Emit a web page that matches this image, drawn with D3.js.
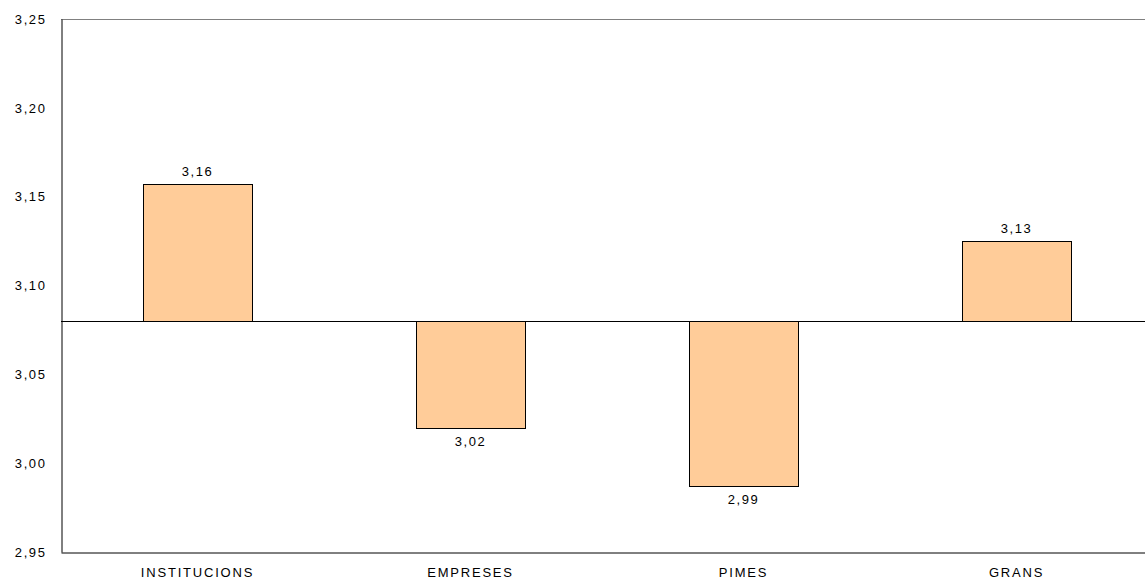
<!DOCTYPE html>
<html><head><meta charset="utf-8">
<script src="https://cdn.jsdelivr.net/npm/d3@7"></script>
<style>
body{margin:0;background:#fff;}
text{font-family:"Liberation Sans",Arial,sans-serif;fill:#000;}
</style></head>
<body>
<svg id="chart" width="1145" height="582"></svg>
<script>
const categories = ["INSTITUCIONS","EMPRESES","PIMES","GRANS"];
const values = [3.157, 3.020, 2.987, 3.125];
const baseline = 3.08;
const yTicks = [2.95, 3.00, 3.05, 3.10, 3.15, 3.20, 3.25];

(function(){
const svg = d3.select("#chart");
const mLeft = 61, mRight = 1153, mTop = 19, mBottom = 552;

const x = d3.scaleBand().domain(categories).range([mLeft, mRight]).paddingInner(0.6).paddingOuter(0.3);
const y = d3.scaleLinear().domain([2.95, 3.25]).range([mBottom, mTop]);
const fmt = v => v.toFixed(2).replace(".", ",");

// top border
svg.append("line").attr("x1", mLeft).attr("x2", mRight).attr("y1", y(3.25)+0.5).attr("y2", y(3.25)+0.5)
  .attr("stroke", "#808080").attr("stroke-width", 1);

// bars
svg.selectAll("rect.bar").data(values).join("rect")
  .attr("class","bar")
  .attr("x", (d,i) => Math.round(x(categories[i])) + 0.5)
  .attr("width", Math.round(x.bandwidth()))
  .attr("y", d => Math.round(y(Math.max(d, baseline))) + 0.5)
  .attr("height", d => Math.round(Math.abs(y(d) - y(baseline))))
  .attr("fill", "#FFCC99").attr("stroke", "#000").attr("stroke-width", 1);

// baseline
svg.append("line").attr("x1", mLeft).attr("x2", mRight)
  .attr("y1", Math.round(y(baseline)) + 0.5).attr("y2", Math.round(y(baseline)) + 0.5)
  .attr("stroke", "#000").attr("stroke-width", 1);

// value labels
svg.selectAll("text.val").data(values).join("text")
  .attr("class","val")
  .attr("x", (d,i) => x(categories[i]) + x.bandwidth()/2)
  .attr("y", d => d >= baseline ? y(d) - 8 : y(d) + 18)
  .attr("text-anchor","middle").attr("font-size", 13).attr("letter-spacing", 1.5)
  .text(d => fmt(d));

// y axis
const yAxis = d3.axisLeft(y).tickValues(yTicks).tickSize(0).tickPadding(15).tickFormat(fmt);
const gy = svg.append("g").attr("transform", `translate(${mLeft+0.5},0)`).call(yAxis);
gy.select(".domain").attr("stroke", "#000");
gy.selectAll("text").attr("font-size", 13).attr("letter-spacing", 1.6)
  .attr("font-family", "Liberation Sans, Arial, sans-serif");

// x axis
const xAxis = d3.axisBottom(x).tickSize(0).tickPadding(15);
const gx = svg.append("g").attr("transform", `translate(0,${mBottom+0.5})`).call(xAxis);
gx.select(".domain").attr("stroke", "#000");
gx.selectAll("text").attr("font-size", 13).attr("letter-spacing", 1.8)
  .attr("font-family", "Liberation Sans, Arial, sans-serif");
})();
</script>
</body></html>
